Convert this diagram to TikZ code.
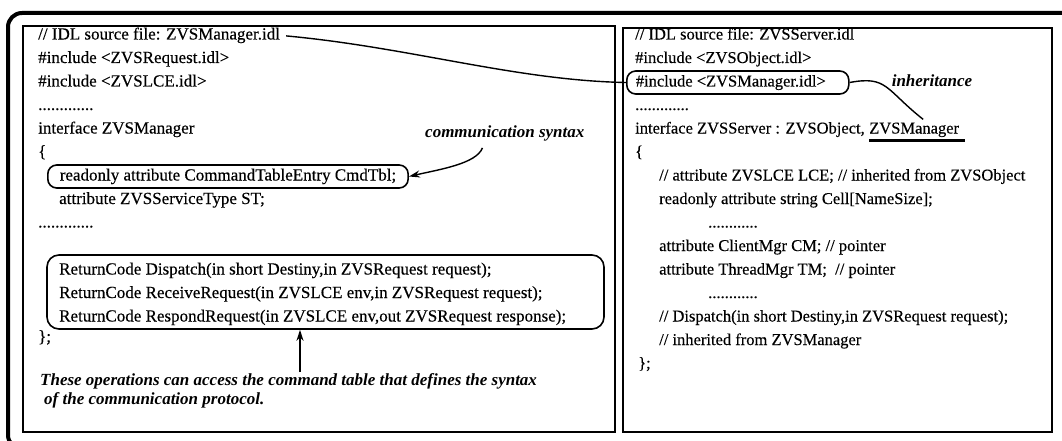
\documentclass[tikz,border=0pt]{standalone}
\usepackage{fontspec}
\setmainfont{Liberation Serif}
\newfontfamily\codefam[FakeBold=0.3]{Liberation Serif}
\usetikzlibrary{arrows.meta,fit,calc}
\newcommand{\codefont}{\codefam\fontsize{16.5}{20}\selectfont}
\newcommand{\codefontL}{\codefam\fontsize{17}{20}\selectfont}
\newcommand{\annfont}{\fontsize{17}{20}\selectfont\bfseries\itshape}
\tikzset{
  code/.style={anchor=base west, inner sep=0pt, font=\codefont},
  codeL/.style={anchor=base west, inner sep=0pt, font=\codefontL},
  ann/.style={anchor=base west, inner sep=0pt, font=\annfont},
  panel/.style={draw, line width=2pt},
  rbox/.style={draw, line width=1.6pt, rounded corners=9pt, anchor=base west,
    inner xsep=11pt, inner ysep=4pt, text height=11.5pt, text depth=3.5pt},
  opsbox/.style={draw, line width=1.6pt, rounded corners=12pt, inner sep=0pt},
  link/.style={line width=1.4pt},
  arr/.style={line width=1.4pt, -{Stealth[length=11pt,width=7pt]}},
}
\begin{document}
\begin{tikzpicture}[x=1pt,y=-1pt]
\useasboundingbox (0,0) rectangle (1062,441);
% outer frame and panels
\draw[line width=4pt, rounded corners=14pt] (8,13) rectangle (1078,449);
\draw[panel] (23,26) rectangle (615,432);
\draw[panel] (623,28) rectangle (1052,432);

% ---------- left panel ----------
\node[codeL] (l1) at (38,39.5) {// IDL source file: ZVSManager.idl};
\node[codeL] (l2) at (38,63) {\#include <ZVSRequest.idl>};
\node[codeL] (l3) at (38,86.5) {\#include <ZVSLCE.idl>};
\node[codeL] (l4) at (38,110) {.............};
\node[codeL] (l5) at (38,133.5) {interface ZVSManager};
\node[codeL] (l6) at (38,157) {\{};
\node[rbox, font=\codefontL, inner xsep=12pt] (ro) at (47,180.5) {readonly attribute CommandTableEntry CmdTbl;};
\node[codeL] (l8) at (59,204) {attribute ZVSServiceType ST;};
\node[codeL] (l9) at (38,227.5) {.............};
\node[codeL] (o1) at (59,274.5) {ReturnCode Dispatch(in short Destiny,in ZVSRequest request);};
\node[codeL] (o2) at (59,298) {ReturnCode ReceiveRequest(in ZVSLCE env,in ZVSRequest request);};
\node[codeL] (o3) at (59,321.5) {ReturnCode RespondRequest(in ZVSLCE env,out ZVSRequest response);};
\coordinate (opsA) at (47,255);
\coordinate (opsB) at (604,329);
\node[opsbox, fit=(opsA)(opsB)] (ops) {};
\node[codeL] (l13) at (38,342) {\};};
\node[ann] (n1) at (40,385) {These operations can access the command table that defines the syntax};
\node[ann] (n2) at (44,404) {of the communication protocol.};
\node[ann] (csyn) at (425,138) {communication syntax};
\coordinate (upbase) at (300,372);
\draw[arr] (upbase) -- (upbase |- ops.south);
\draw[arr] ($(csyn.south west)!0.36!(csyn.south east)+(0,6)$)
  .. controls +(-6,16) and +(30,-7) .. (ro.east);

% ---------- right panel ----------
\node[code] (r1) at (635,39.5) {// IDL source file: ZVSServer.idl};
\node[code] (r2) at (635,63) {\#include <ZVSObject.idl>};
\node[rbox, font=\codefont, inner xsep=9pt] (inc) at (626,86.5) {\makebox[204pt][l]{\#include <ZVSManager.idl>}};
\node[code] (r4) at (635,110) {.............};
\node[code] (r5) at (635,133.5) {interface ZVSServer : ZVSObject,};
\node[code, anchor=base west] (zvsm) at ($(r5.base east)+(4.1,0)$) {ZVSManager};
\node[code] (r6) at (635,157) {\{};
\node[code] (r7) at (659,180.5) {// attribute ZVSLCE LCE; // inherited from ZVSObject};
\node[code] (r8) at (659,204) {readonly attribute string Cell[NameSize];};
\node[code] (r9) at (708,227.5) {............};
\node[code] (r10) at (659,251) {attribute ClientMgr CM; // pointer};
\node[code] (r11) at (659,274.5) {attribute ThreadMgr TM;\ \ // pointer};
\node[code] (r12) at (708,298) {............};
\node[code] (r13) at (659,321.5) {// Dispatch(in short Destiny,in ZVSRequest request);};
\node[code] (r14) at (659,345) {// inherited from ZVSManager};
\node[code] (r15) at (638,368.5) {\};};
\draw[line width=3.6pt] ($(zvsm.base west)+(0,7)$) -- ($(zvsm.base east)+(6,7)$);
\node[ann] (inh) at ($(inc.base east)+(42,0)$) {inheritance};

% connectors
\draw[link, shorten <=6pt] (l1.east) .. controls +(130,12) and +(-110,-2) .. (inc.west);
\draw[link] (inc.east) .. controls +(38,-7) and +(-38,-30) .. ($(zvsm.north west)!0.6!(zvsm.north east)+(0,-3)$);
\end{tikzpicture}
\end{document}
